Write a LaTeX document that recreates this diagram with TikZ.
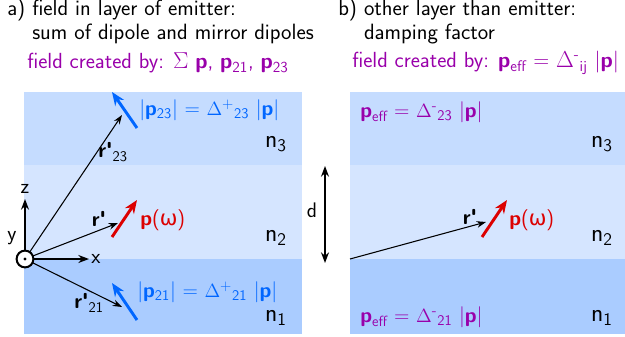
\documentclass[tikz,border=0pt]{standalone}
\usepackage{fontspec}
\newfontfamily\greekfont{DejaVu Sans}
\definecolor{layerone}{RGB}{170,204,255}
\definecolor{layertwo}{RGB}{213,229,255}
\definecolor{layerthree}{RGB}{197,220,255}
\definecolor{dipolered}{RGB}{220,0,0}
\definecolor{mirrorblue}{RGB}{0,102,255}
\definecolor{fieldpurple}{RGB}{153,0,170}
\newcommand{\sfDelta}{{\fontencoding{OT1}\selectfont\char1}}
\newcommand{\sfSigma}{{\fontencoding{OT1}\selectfont\char6}}
\newcommand{\vp}{\textbf{p}}
\newcommand{\vr}{\textbf{r\textquotesingle}}
\usetikzlibrary{arrows.meta}

\begin{document}
\begin{tikzpicture}[x=0.75pt,y=-0.75pt,
    font=\sffamily\fontsize{15.8}{14.25}\selectfont,
    every node/.style={inner sep=0pt},
    title/.style={anchor=west, align=left, font=\sffamily\fontsize{16.6}{14.25}\selectfont},
    header/.style={anchor=west, text=fieldpurple, font=\sffamily\fontsize{16.4}{16}\selectfont},
    thinvec/.style={line width=0.8pt, -{Stealth[length=7pt,width=5pt]}},
    dipole/.style={line width=2.2pt, -{Stealth[length=10pt,width=8pt]}},
    axis/.style={line width=1.1pt, -{Stealth[length=8pt,width=6pt]}},
    layerlabel/.style={font=\sffamily\fontsize{19}{19}\selectfont}]
  \useasboundingbox (0,0) rectangle (625,336);
  % Coordinates
  \coordinate (A) at (24, 92);
  \coordinate (B) at (302, 165);
  \coordinate (C) at (24, 259);
  \coordinate (D) at (302, 334);
  \coordinate (E) at (350, 92);
  \coordinate (F) at (625, 165);
  \coordinate (G) at (350, 259);
  \coordinate (H) at (625, 334);
  \coordinate (O) at (25, 259);
  \coordinate (Z) at (25, 199);
  \coordinate (X) at (89, 259);
  \coordinate (R3) at (122, 115);
  \coordinate (R2) at (118, 223);
  \coordinate (R1) at (122, 307);
  \coordinate (P1) at (112, 237);
  \coordinate (P2) at (137, 200);
  \coordinate (M1) at (137, 128);
  \coordinate (M2) at (112, 92);
  \coordinate (M3) at (137, 320);
  \coordinate (M4) at (112, 283);
  \coordinate (S) at (325, 166);
  \coordinate (T) at (325, 263);
  \coordinate (U) at (486, 222);
  \coordinate (V) at (482, 237);
  \coordinate (W) at (507, 200);

  % Drawing
  \fill[layerthree] (A) rectangle (B);
  \fill[layertwo] (A |- B) rectangle (C -| B);
  \fill[layerone] (C) rectangle (D);
  \fill[layerthree] (E) rectangle (F);
  \fill[layertwo] (E |- F) rectangle (G -| F);
  \fill[layerone] (G) rectangle (H);

  \node[title] (ta) at (7, 22) {a) field in layer of emitter:\\\phantom{a)\ }sum of dipole and mirror dipoles};
  \node[title] (tb) at (338, 22) {b) other layer than emitter:\\\phantom{b)\ }damping factor};
  \node[header] (fa) at (27, 63) {field created by: \textbf{\sfSigma} \vp, \vp\textsubscript{21}, \vp\textsubscript{23}};
  \node[header] (fb) at (352, 63) {field created by: \vp\textsubscript{eff} = \sfDelta\textsuperscript{-}\textsubscript{ij} |\vp|};

  \draw[thinvec] (O) -- (R3);
  \draw[thinvec] (O) -- (R2);
  \draw[thinvec] (O) -- (R1);
  \draw[axis] (O) -- (Z);
  \draw[axis] (O) -- (X);
  \draw[line width=1.5pt, fill=white] (O) circle (6.3pt);
  \fill (O) circle (1.2pt);
  \node (z) at (25, 189) {z};
  \node (y) at (12, 238) {y};
  \node (x) at (96, 259) {x};

  \draw[dipole, dipolered] (P1) -- (P2);
  \draw[dipole, mirrorblue] (M1) -- (M2);
  \draw[dipole, mirrorblue] (M3) -- (M4);
  \node (r3) at (113, 152) {\vr\textsubscript{23}};
  \node (r2) at (99, 219) {\vr};
  \node (r1) at (89, 303) {\vr\textsubscript{21}};
  \node[anchor=west, text=dipolered] (pa) at (140, 220) {\vp({\greekfont ω})};
  \node[anchor=west, text=mirrorblue] (m3) at (139, 110) {|\vp\textsubscript{23}| = \sfDelta\textsuperscript{+}\textsubscript{23} |\vp|};
  \node[anchor=west, text=mirrorblue] (m1) at (137, 292) {|\vp\textsubscript{21}| = \sfDelta\textsuperscript{+}\textsubscript{21} |\vp|};
  \node[layerlabel] (na3) at (276, 144) {n\textsubscript{3}};
  \node[layerlabel] (na2) at (276, 238) {n\textsubscript{2}};
  \node[layerlabel] (na1) at (276, 318) {n\textsubscript{1}};

  \draw[line width=1.1pt, {Stealth[length=8pt,width=6pt]}-{Stealth[length=8pt,width=6pt]}] (S) -- (T);
  \node (d) at (312, 210) {d};

  \draw[thinvec] (G) -- (U);
  \draw[dipole, dipolered] (V) -- (W);
  \node (rb) at (470, 217) {\vr};
  \node[anchor=west, text=dipolered] (pb) at (509, 220) {\vp({\greekfont ω})};
  \node[anchor=west, text=fieldpurple] (e3) at (360, 112) {\vp\textsubscript{eff} = \sfDelta\textsuperscript{-}\textsubscript{23} |\vp|};
  \node[anchor=west, text=fieldpurple] (e1) at (360, 317) {\vp\textsubscript{eff} = \sfDelta\textsuperscript{-}\textsubscript{21} |\vp|};
  \node[layerlabel] (nb3) at (602, 144) {n\textsubscript{3}};
  \node[layerlabel] (nb2) at (602, 238) {n\textsubscript{2}};
  \node[layerlabel] (nb1) at (602, 318) {n\textsubscript{1}};
\end{tikzpicture}
\end{document}
